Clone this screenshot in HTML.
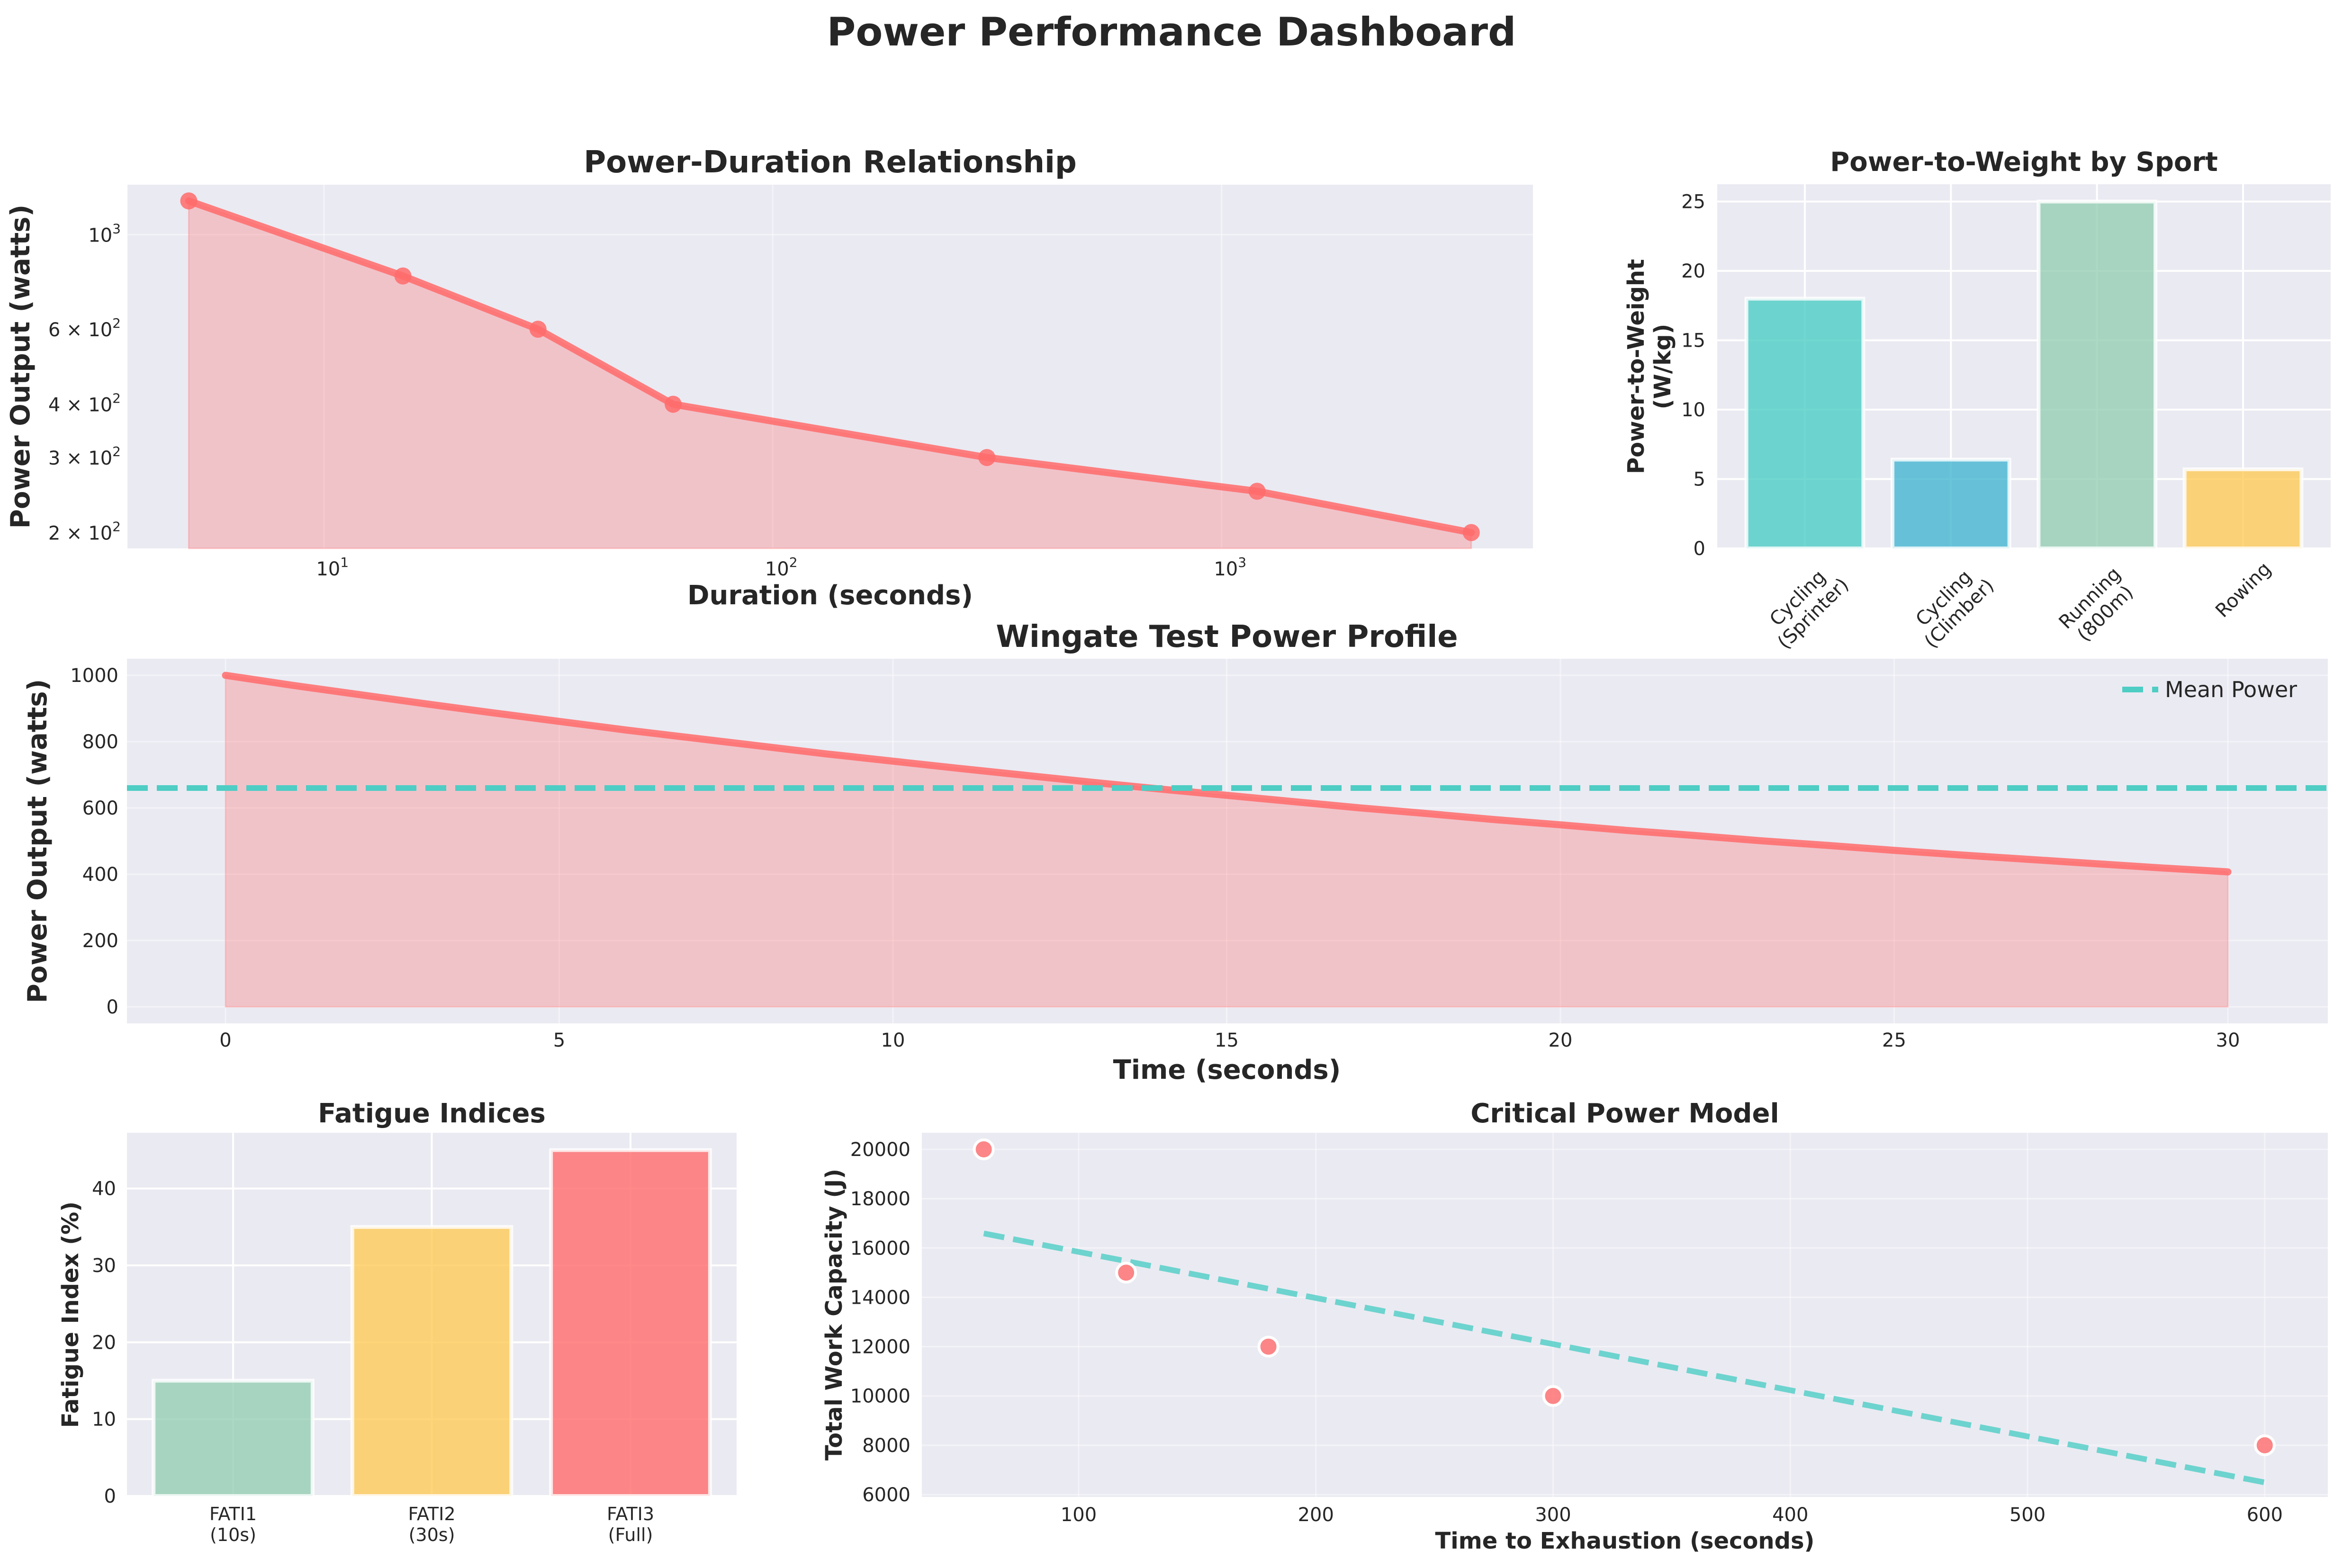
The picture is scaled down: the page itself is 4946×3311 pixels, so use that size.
<!DOCTYPE html>
<html><head><meta charset="utf-8"><title>Power Performance Dashboard</title>
<style>
html,body{margin:0;padding:0;background:#fff;}
svg{display:block;font-family:"DejaVu Sans","Liberation Sans",sans-serif;}
</style></head>
<body>
<svg id="fig" xmlns="http://www.w3.org/2000/svg" width="4946" height="3311" viewBox="0 0 4946 3311">
<rect width="4946" height="3311" fill="#ffffff"/>
<text x="2473" y="96" font-size="83" font-weight="bold" text-anchor="middle" fill="#262626">Power Performance Dashboard</text>
</svg>
<script>
// ---- Chart data ----
const pdDurations = [5, 15, 30, 60, 300, 1200, 3600];
const pdPower = [1200, 800, 600, 400, 300, 250, 200];
const pdYTicks = [1000, 600, 400, 300, 200];
const pdYTickLabels = [["10","3"], ["6 × 10","2"], ["4 × 10","2"], ["3 × 10","2"], ["2 × 10","2"]];
const pdXTicks = [10, 100, 1000];
const pdXTickLabels = [["10","1"], ["10","2"], ["10","3"]];

const sports = ["Cycling\n(Sprinter)", "Cycling\n(Climber)", "Running\n(800m)", "Rowing"];
const sportPW = [18, 6.4, 25, 5.7];
const sportColors = ["#4ECDC4", "#45B7D1", "#96CEB4", "#FECA57"];
const pwYTicks = [0, 5, 10, 15, 20, 25];

const wingateTime = [0,1,2,3,4,5,6,7,8,9,10,11,12,13,14,15,16,17,18,19,20,21,22,23,24,25,26,27,28,29,30];
const wingatePower = [1000,970,942,914,887,861,835,811,787,763,741,719,698,677,657,638,619,600,583,565,549,532,517,501,487,472,458,445,432,419,407];
const wingateMean = [660];
const wgYTicks = [0, 200, 400, 600, 800, 1000];
const wgXTicks = [0, 5, 10, 15, 20, 25, 30];

const fatigueNames = ["FATI1\n(10s)", "FATI2\n(30s)", "FATI3\n(Full)"];
const fatigueValues = [15, 35, 45];
const fatigueColors = ["#96CEB4", "#FECA57", "#FF6B6B"];
const fiYTicks = [0, 10, 20, 30, 40];

const cpTimes = [60, 120, 180, 300, 600];
const cpWork = [20000, 15000, 12000, 10000, 8000];
const cpXTicks = [100, 200, 300, 400, 500, 600];
const cpYTicks = [6000, 8000, 10000, 12000, 14000, 16000, 18000, 20000];

// ---- helpers ----
const NS = "http://www.w3.org/2000/svg";
const svg = document.getElementById("fig");
function mk(tag, attrs, parent) {
  const e = document.createElementNS(NS, tag);
  for (const k in attrs) e.setAttribute(k, attrs[k]);
  (parent || svg).appendChild(e);
  return e;
}
const BG = "#EAEAF2", TXT = "#262626";
function linScale(d0, d1, r0, r1) { return v => r0 + (v - d0) / (d1 - d0) * (r1 - r0); }
function logScale(d0, d1, r0, r1) { return v => r0 + (Math.log10(v) - Math.log10(d0)) / (Math.log10(d1) - Math.log10(d0)) * (r1 - r0); }
function axesBg(x0, y0, x1, y1, name) {
  const r = mk("rect", {x: x0, y: y0, width: x1 - x0, height: y1 - y0, fill: BG});
  
  
}
function gridLine(x1, y1, x2, y2, faint) {
  const l = mk("line", {x1, y1, x2, y2, stroke: "#ffffff", "stroke-width": faint ? 3 : 4, "stroke-opacity": faint ? 0.45 : 1});
  
  
}
function label(txt, x, y, size, opts, name) {
  const t = mk("text", Object.assign({x, y, "font-size": size, fill: TXT, "text-anchor": "middle"}, opts || {}));
  t.textContent = txt;
  
  
  return t;
}
function supLabel(parts, x, y, name) {
  const t = mk("text", {x, y, "font-size": 40, fill: TXT, "text-anchor": "end"});
  
  
  const a = mk("tspan", {}, t); a.textContent = parts[0];
  const b = mk("tspan", {"font-size": 28, dy: -18}, t); b.textContent = parts[1];
  return t;
}
function multiLine(txt, x, y, size, lh, name, extra) {
  const t = mk("text", Object.assign({x, y, "font-size": size, fill: TXT, "text-anchor": "middle"}, extra || {}));
  
  
  txt.split("\n").forEach((s, i) => { const sp = mk("tspan", {x, dy: i === 0 ? 0 : lh}, t); sp.textContent = s; });
  return t;
}

// ===== Panel 1: Power-Duration (log-log) =====
(function(){
  const L=269,R=3236,T=390,B=1158;
  const xs = logScale(3.65, 4940, L, R);
  const ys = logScale(183.6, 1310, B, T);
  axesBg(L,T,R,B,'power-duration-plot-area');
  pdXTicks.forEach(v => gridLine(xs(v),T,xs(v),B,true));
  gridLine(L,ys(1000),R,ys(1000),true);
  let d = "M"+xs(pdDurations[0])+","+B;
  pdDurations.forEach((v,i)=> d += " L"+xs(v)+","+ys(pdPower[i]));
  d += " L"+xs(pdDurations[pdDurations.length-1])+","+B+" Z";
  const f = mk("path",{d, fill:"#FF6B6B", "fill-opacity":0.3, stroke:"#FF6B6B","stroke-opacity":0.3,"stroke-width":3});
  
  
  const pl = mk("polyline",{points: pdDurations.map((v,i)=>xs(v)+","+ys(pdPower[i])).join(" "), fill:"none", stroke:"#FF6B6B","stroke-opacity":0.85,"stroke-width":15,"stroke-linejoin":"round","stroke-linecap":"round"});
  
  
  pdDurations.forEach((v,i)=>{
    const c = mk("circle",{cx:xs(v),cy:ys(pdPower[i]),r:18,fill:"#FF6B6B","fill-opacity":0.85});
    
    
  });
  pdYTicks.forEach((v,i)=> supLabel(pdYTickLabels[i], 255, ys(v)+15, 'y-tick-label'));
  pdXTicks.forEach((v,i)=>{
    const t = supLabel(pdXTickLabels[i], xs(v)+18, 1215, 'x-tick-label');
    t.setAttribute("text-anchor","middle");
  });
  label("Power-Duration Relationship", (L+R)/2, 364, 64, {"font-weight":"bold"}, 'power-duration-title');
  label("Duration (seconds)", (L+R)/2, 1276, 56, {"font-weight":"bold"}, 'x-axis-title');
  label("Power Output (watts)", 0, 0, 56, {"font-weight":"bold", transform:"translate(62,774) rotate(-90)"}, 'y-axis-title');
})();

// ===== Panel 2: Power-to-Weight bars =====
(function(){
  const L=3625,R=4920,T=389,B=1158;
  const xs = linScale(-0.6, 3.6, L, R);
  const ys = linScale(0, 26.25, B, T);
  axesBg(L,T,R,B,'power-to-weight-plot-area');
  pwYTicks.forEach(v=>gridLine(L,ys(v),R,ys(v),false));
  sports.forEach((s,i)=>gridLine(xs(i),T,xs(i),B,false));
  sports.forEach((s,i)=>{
    const x0=xs(i-0.4), x1=xs(i+0.4);
    const r = mk("rect",{x:x0,y:ys(sportPW[i]),width:x1-x0,height:B-ys(sportPW[i]),fill:sportColors[i],"fill-opacity":0.8,stroke:"#ffffff","stroke-width":8,"stroke-opacity":0.8});
    
    
  });
  pwYTicks.forEach(v=>label(String(v), 3600, ys(v)+14, 40, {"text-anchor":"end"}, 'y-tick-label'));
  sports.forEach((s,i)=>{
    const lines = s.split("\n");
    const cy = lines.length>1 ? 1278 : 1245;
    const g = mk("g",{transform:"translate("+xs(i)+","+cy+") rotate(-45)"});
    
    
    const t = mk("text",{x:0,y:lines.length>1?-8:14,"font-size":40,fill:TXT,"text-anchor":"middle"},g);
    
    
    lines.forEach((ln,k)=>{const sp=mk("tspan",{x:0,dy:k===0?0:46},t); sp.textContent=ln;});
  });
  label("Power-to-Weight by Sport", (L+R)/2, 361, 56, {"font-weight":"bold"}, 'power-to-weight-title');
  multiLine("Power-to-Weight\n(W/kg)", 0, 0, 48, 56, 'y-axis-title', {"font-weight":"bold", transform:"translate(3470,774) rotate(-90)"});
})();

// ===== Panel 3: Wingate =====
(function(){
  const L=268,R=4914,T=1391,B=2161;
  const xs = linScale(0, 30, 476, 4703);
  const ys = linScale(0, 1000, 2126, 1426);
  axesBg(L,T,R,B,'wingate-plot-area');
  wgYTicks.forEach(v=>gridLine(L,ys(v),R,ys(v),true));
  wgXTicks.forEach(v=>gridLine(xs(v),T,xs(v),B,true));
  let d="M"+xs(wingateTime[0])+","+ys(0);
  wingateTime.forEach((t,i)=> d+=" L"+xs(t)+","+ys(wingatePower[i]));
  d+=" L"+xs(wingateTime[wingateTime.length-1])+","+ys(0)+" Z";
  const f = mk("path",{d,fill:"#FF6B6B","fill-opacity":0.3,stroke:"#FF6B6B","stroke-opacity":0.3,"stroke-width":3});
  
  
  const pl = mk("polyline",{points:wingateTime.map((t,i)=>xs(t)+","+ys(wingatePower[i])).join(" "),fill:"none",stroke:"#FF6B6B","stroke-opacity":0.85,"stroke-width":15,"stroke-linecap":"round","stroke-linejoin":"round"});
  
  
  const ml = mk("line",{x1:L,y1:ys(wingateMean[0]),x2:R,y2:ys(wingateMean[0]),stroke:"#4ECDC4","stroke-width":12,"stroke-dasharray":"44 19"});
  
  
  const lg = mk("line",{x1:4480,y1:1456,x2:4556,y2:1456,stroke:"#4ECDC4","stroke-width":12,"stroke-dasharray":"44 19"});
  
  
  label("Mean Power", 4570, 1472, 46, {"text-anchor":"start"}, 'legend-entry-mean-power');
  wgYTicks.forEach(v=>label(String(v), 250, ys(v)+14, 40, {"text-anchor":"end"}, 'y-tick-label'));
  wgXTicks.forEach(v=>label(String(v), xs(v), 2210, 40, {}, 'x-tick-label'));
  label("Wingate Test Power Profile", 2590, 1366, 64, {"font-weight":"bold"}, 'wingate-title');
  label("Time (seconds)", 2590, 2278, 56, {"font-weight":"bold"}, 'x-axis-title');
  label("Power Output (watts)", 0, 0, 56, {"font-weight":"bold", transform:"translate(98,1776) rotate(-90)"}, 'y-axis-title');
})();

// ===== Panel 4: Fatigue bars =====
(function(){
  const L=268,R=1555,T=2392,B=3159;
  const xs = linScale(0, 2, 492, 1331);
  const ys = linScale(0, 47.25, B, T);
  axesBg(L,T,R,B,'fatigue-plot-area');
  fiYTicks.forEach(v=>gridLine(L,ys(v),R,ys(v),false));
  fatigueNames.forEach((s,i)=>gridLine(xs(i),T,xs(i),B,false));
  fatigueNames.forEach((s,i)=>{
    const x0=xs(i-0.4),x1=xs(i+0.4);
    const r = mk("rect",{x:x0,y:ys(fatigueValues[i]),width:x1-x0,height:B-ys(fatigueValues[i]),fill:fatigueColors[i],"fill-opacity":0.8,stroke:"#ffffff","stroke-width":8,"stroke-opacity":0.8});
    
    
  });
  fiYTicks.forEach(v=>label(String(v), 245, ys(v)+14, 40, {"text-anchor":"end"}, 'y-tick-label'));
  fatigueNames.forEach((s,i)=>multiLine(s, xs(i), 3210, 38, 44, 'x-tick-label'));
  label("Fatigue Indices", (L+R)/2, 2370, 56, {"font-weight":"bold"}, 'fatigue-title');
  label("Fatigue Index (%)", 0, 0, 48, {"font-weight":"bold", transform:"translate(165,2776) rotate(-90)"}, 'y-axis-title');
})();

// ===== Panel 5: Critical Power =====
(function(){
  const L=1946,R=4914,T=2392,B=3161;
  const xs = linScale(33.9, 626.6, L, R);
  const ys = linScale(5904, 20672, B, T);
  axesBg(L,T,R,B,'critical-power-plot-area');
  cpYTicks.forEach(v=>gridLine(L,ys(v),R,ys(v),true));
  cpXTicks.forEach(v=>gridLine(xs(v),T,xs(v),B,true));
  const n=cpTimes.length;
  const mx=cpTimes.reduce((a,b)=>a+b,0)/n, my=cpWork.reduce((a,b)=>a+b,0)/n;
  let sxy=0,sxx=0; cpTimes.forEach((t,i)=>{sxy+=(t-mx)*(cpWork[i]-my); sxx+=(t-mx)*(t-mx);});
  const slope=sxy/sxx, icpt=my-slope*mx;
  const tmin=Math.min(...cpTimes), tmax=Math.max(...cpTimes);
  const fl = mk("line",{x1:xs(tmin),y1:ys(icpt+slope*tmin),x2:xs(tmax),y2:ys(icpt+slope*tmax),stroke:"#4ECDC4","stroke-opacity":0.8,"stroke-width":12,"stroke-dasharray":"44 19"});
  
  
  cpTimes.forEach((t,i)=>{
    const c = mk("circle",{cx:xs(t),cy:ys(cpWork[i]),r:20,fill:"#FF6B6B","fill-opacity":0.8,stroke:"#ffffff","stroke-width":6});
    
    
  });
  cpYTicks.forEach(v=>label(String(v), 1922, ys(v)+14, 40, {"text-anchor":"end"}, 'y-tick-label'));
  cpXTicks.forEach(v=>label(String(v), xs(v), 3212, 40, {}, 'x-tick-label'));
  label("Critical Power Model", (L+R)/2, 2370, 56, {"font-weight":"bold"}, 'critical-power-title');
  label("Time to Exhaustion (seconds)", (L+R)/2, 3270, 48, {"font-weight":"bold"}, 'x-axis-title');
  label("Total Work Capacity (J)", 0, 0, 48, {"font-weight":"bold", transform:"translate(1777,2776) rotate(-90)"}, 'y-axis-title');
})();
</script>
</body></html>
